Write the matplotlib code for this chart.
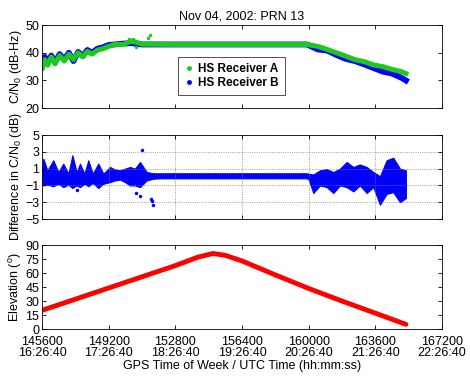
import numpy as np
import matplotlib
matplotlib.use("Agg")
import matplotlib.pyplot as plt

plt.rcParams['font.family'] = ['Liberation Sans', 'DejaVu Sans']
plt.rcParams['mathtext.fontset'] = 'custom'
plt.rcParams['mathtext.rm'] = 'Liberation Sans'
plt.rcParams['mathtext.it'] = 'Liberation Sans'

# ---- data ----
# C/N0 (dB-Hz) for both receivers
cn_t = [145600, 145750, 145900, 146100, 146300, 146550, 146800, 147050, 147300,
        147550, 147800, 148050, 148300, 148600, 148900, 149200, 149500, 150000,
        150400, 150700, 151000, 153000, 156000, 159900, 160500, 161000, 161500,
        162000, 162500, 163000, 163500, 164000, 164500, 165000, 165250]
cn_a = [34.5, 37.5, 35.5, 38.5, 36.0, 39.0, 37.0, 39.5, 37.5,
        40.0, 38.5, 40.5, 39.5, 41.0, 41.5, 42.3, 43.0, 43.0,
        44.2, 43.8, 43.1, 43.0, 43.0, 43.0, 42.3, 41.2, 40.0,
        38.8, 37.5, 36.8, 35.6, 35.0, 34.0, 33.2, 32.5]
cn_b = [34.8, 38.5, 36.0, 39.0, 36.5, 39.5, 37.5, 40.0, 37.0,
        40.3, 38.8, 41.0, 40.0, 41.5, 42.0, 42.8, 43.0, 43.3,
        43.5, 43.2, 43.0, 43.0, 43.0, 43.0, 41.2, 40.8, 39.2,
        37.8, 37.0, 35.8, 34.5, 33.2, 32.5, 31.0, 30.0]
# stray receiver A points
cn_a_out_t = [150300, 150500, 150650, 151350, 151450]
cn_a_out = [44.8, 45.0, 42.0, 45.5, 46.5]

# difference in C/N0 (dB): spread of the scatter (upper / lower edge)
diff_t = [145600, 145670, 145890, 146210, 146480, 146750, 147020, 147240, 147470,
          147650, 147890, 148100, 148340, 148640, 148910, 149270, 149540, 149810,
          150080, 150350, 150620, 150890, 151250, 151610, 152000, 154000, 156000,
          158000, 159900, 160000, 160250, 160610, 160970, 161330, 161690, 162050,
          162410, 162770, 163130, 163490, 163850, 164210, 164570, 164930, 165250]
diff_hi = [0.6, 2.2, 0.8, 2.0, 0.6, 1.6, 0.4, 2.6, 0.6,
           1.6, 0.4, 2.0, 0.4, 1.6, 0.4, 1.2, 0.9, 0.8,
           1.0, 1.2, 1.0, 1.8, 0.6, 0.45, 0.45, 0.45, 0.45,
           0.45, 0.45, 0.4, 0.3, 0.8, 0.95, 0.6, 1.0, 1.8,
           1.2, 1.5, 1.2, 0.6, 0.1, 2.0, 2.3, 1.0, 0.8]
diff_lo = [-0.8, -1.0, -0.9, -1.1, -0.8, -1.2, -0.9, -1.3, -1.0,
           -1.2, -0.8, -1.1, -0.7, -1.3, -0.8, -0.6, -0.4, -0.3,
           -0.6, -1.0, -1.0, -1.2, -0.4, -0.2, -0.15, -0.15, -0.15,
           -0.15, -0.15, -0.3, -1.9, -1.0, -1.2, -1.9, -1.0, -1.2,
           -1.7, -1.0, -1.9, -1.2, -3.3, -2.0, -1.8, -3.0, -2.5]
diff_out_t = [147500, 150980, 150700, 150900, 151500, 151550, 151600]
diff_out = [-1.5, 3.2, -1.9, -2.2, -2.6, -2.9, -3.3]

# elevation (deg)
el_t = [145600, 147400, 149200, 151000, 152800, 154000, 154830, 155500,
        156400, 158200, 160000, 161800, 163600, 165250]
el = [20, 32, 44, 56, 68, 77, 81, 79, 73, 58, 43.5, 30, 17, 5]

xticks = [145600, 149200, 152800, 156400, 160000, 163600, 167200]
xtick_labels = ['145600\n16:26:40', '149200\n17:26:40', '152800\n18:26:40',
                '156400\n19:26:40', '160000\n20:26:40', '163600\n21:26:40',
                '167200\n22:26:40']

green = '#1ec81e'
blue = '#0000ff'
red = '#ff0000'

fig = plt.figure(figsize=(4.7, 3.78), dpi=100)
ax1 = fig.add_axes([0.0894, 0.714, 0.851, 0.2196])
ax2 = fig.add_axes([0.0894, 0.4206, 0.851, 0.222])
ax3 = fig.add_axes([0.0894, 0.1296, 0.851, 0.222])

fs = 9
for ax in (ax1, ax2, ax3):
    ax.set_xlim(145600, 167200)
    ax.set_xticks(xticks)
    ax.tick_params(direction='in', top=True, right=True, labelsize=fs,
                   length=3, width=0.6, pad=2)
    for s in ax.spines.values():
        s.set_linewidth(0.6)

# top: C/N0
ax1.plot(cn_t, cn_b, color=blue, lw=4.2, solid_joinstyle='round')
ax1.plot(cn_t, cn_a, color=green, lw=3.6, solid_joinstyle='round')
ax1.plot(cn_a_out_t, cn_a_out, 'o', color=green, ms=2.5, mec='none')
ax1.plot([], [], '.', color=green, ms=5, label='HS Receiver A')
ax1.plot([], [], '.', color=blue, ms=5, label='HS Receiver B')
ax1.set_ylim(20, 50)
ax1.set_yticks([20, 30, 40, 50])
ax1.set_xticklabels([])
ax1.set_ylabel(r'C/N$_0$ (dB-Hz)', fontsize=fs, labelpad=1)
ax1.set_title('Nov 04, 2002: PRN 13', fontsize=fs, pad=4)
leg = ax1.legend(loc='upper left', bbox_to_anchor=(0.34, 0.614), borderaxespad=0,
                 fancybox=False, edgecolor='black', handlelength=0.8,
                 handletextpad=0.4, borderpad=0.5, labelspacing=0.2,
                 prop={'weight': 'bold', 'size': 8.5})
leg.get_frame().set_linewidth(0.6)

# middle: difference
ax2.fill_between(diff_t, diff_lo, diff_hi, color=blue, lw=0.8, edgecolor=blue)
ax2.plot(diff_out_t, diff_out, 'o', color=blue, ms=2.5, mec='none')
ax2.set_ylim(-5, 5)
ax2.set_yticks([-5, -3, -1, 1, 3, 5])
ax2.set_xticklabels([])
ax2.grid(True, linestyle=':', color='#808080', linewidth=0.6)
ax2.set_ylabel(r'Difference in C/N$_0$ (dB)', fontsize=fs, labelpad=1)

# bottom: elevation
ax3.plot(el_t, el, color=red, lw=3.5, solid_capstyle='round')
ax3.set_ylim(0, 90)
ax3.set_yticks([0, 15, 30, 45, 60, 75, 90])
ax3.set_xticklabels(xtick_labels, linespacing=0.85)
ax3.tick_params(axis='x', pad=5)
ax3.set_ylabel(r'Elevation ($^\mathrm{o}$)', fontsize=fs, labelpad=1)
ax3.set_xlabel('GPS Time of Week / UTC Time (hh:mm:ss)', fontsize=fs, labelpad=1)

fig.savefig('out.png', dpi=100)
